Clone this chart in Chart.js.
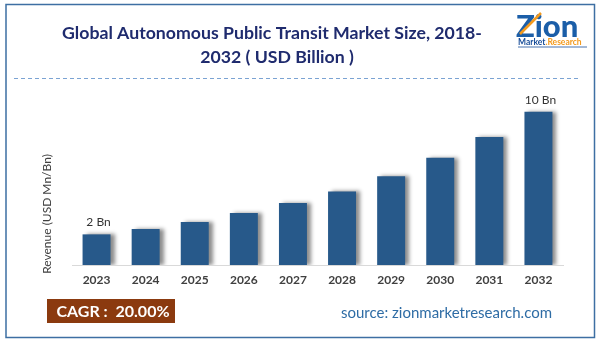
<!DOCTYPE html>
<html>
<head>
<meta charset="utf-8">
<title>Global Autonomous Public Transit Market Size</title>
<script src="https://cdn.jsdelivr.net/npm/chart.js@4.4.1/dist/chart.umd.min.js"></script>
<style>
  html, body { margin: 0; padding: 0; background: #ffffff; }
</style>
</head>
<body>
<canvas id="myChart" width="601" height="344"></canvas>
<script>
// Market size by year (USD Billion)
var years = ["2023", "2024", "2025", "2026", "2027", "2028", "2029", "2030", "2031", "2032"];
var revenue = [2, 2.35, 2.8, 3.4, 4.05, 4.8, 5.8, 7.0, 8.35, 10];
var valueLabels = ["2 Bn", "", "", "", "", "", "", "", "", "10 Bn"];

var titleLines = ["Global Autonomous Public Transit Market Size, 2018-", "2032 ( USD Billion )"];
var yAxisTitle = "Revenue (USD Mn/Bn)";
var cagrText = "CAGR :  20.00%";
var sourceText = "source: zionmarketresearch.com";

var FONT = "Lato, 'Open Sans', sans-serif";

// Soft grey shadow to the right of each bar
var barShadow = {
    id: "barShadow",
    beforeDatasetsDraw: function (chart) {
        var ctx = chart.ctx;
        ctx.save();
        ctx.shadowColor = "rgba(0, 0, 0, 0.45)";
        ctx.shadowBlur = 4;
        ctx.shadowOffsetX = 4;
        ctx.shadowOffsetY = 0;
    },
    afterDatasetsDraw: function (chart) {
        chart.ctx.restore();
    },
};

// Frame, heading, logo, value labels, CAGR badge and source line
var decorations = {
    id: "decorations",
    afterDraw: function (chart) {
        var ctx = chart.ctx;
        ctx.save();

        // outer frame
        ctx.strokeStyle = "#3d6fa3";
        ctx.lineWidth = 1.5;
        ctx.strokeRect(6, 4.5, 588.5, 333);

        // dashed separator under the heading
        ctx.strokeStyle = "#7ba3d3";
        ctx.lineWidth = 1;
        ctx.setLineDash([4, 3]);
        ctx.beginPath();
        ctx.moveTo(14, 78.5);
        ctx.lineTo(581, 78.5);
        ctx.stroke();
        ctx.setLineDash([]);

        // heading
        ctx.fillStyle = "#1f2b6e";
        ctx.font = "bold 17.7px " + FONT;
        ctx.textAlign = "center";
        ctx.textBaseline = "middle";
        ctx.fillText(titleLines[0], 272, 33);
        ctx.fillText(titleLines[1], 277, 57);

        // logo
        ctx.textAlign = "left";
        ctx.textBaseline = "alphabetic";
        ctx.font = "900 31px " + FONT;
        ctx.fillStyle = "#1b5ea8";
        ctx.fillText("Zion", 516, 37);
        ctx.strokeStyle = "#f39a1e";
        ctx.lineWidth = 2.5;
        ctx.beginPath();
        ctx.moveTo(520, 34);
        ctx.lineTo(541, 13);
        ctx.stroke();
        ctx.font = "bold 8.5px " + FONT;
        ctx.fillStyle = "#1b4f9a";
        ctx.fillText("Market", 518, 45);
        var mw = ctx.measureText("Market").width;
        ctx.fillStyle = "#f39a1e";
        ctx.fillText(".Research", 518 + mw, 45);
        ctx.strokeStyle = "#1b4f9a";
        ctx.lineWidth = 0.8;
        ctx.beginPath();
        ctx.moveTo(518, 47);
        ctx.lineTo(587, 47);
        ctx.stroke();

        // value labels above bars
        var meta = chart.getDatasetMeta(0);
        ctx.font = "12px " + FONT;
        ctx.fillStyle = "#333333";
        ctx.textAlign = "center";
        ctx.textBaseline = "middle";
        meta.data.forEach(function (bar, i) {
            if (valueLabels[i]) {
                ctx.fillText(valueLabels[i], bar.x + 2, bar.y - 12);
            }
        });

        // y axis title
        ctx.save();
        ctx.translate(47, 214);
        ctx.rotate(-Math.PI / 2);
        ctx.font = "12px " + FONT;
        ctx.fillStyle = "#404040";
        ctx.fillText(yAxisTitle, 0, 0);
        ctx.restore();

        // CAGR badge
        ctx.fillStyle = "#8b3a0f";
        ctx.fillRect(47, 299, 128, 24);
        ctx.fillStyle = "#ffffff";
        ctx.font = "bold 16px " + FONT;
        ctx.fillText(cagrText, 113, 311.5);

        // source
        ctx.fillStyle = "#2e6ca5";
        ctx.font = "15px " + FONT;
        ctx.textAlign = "left";
        ctx.fillText(sourceText, 341, 313.5);

        ctx.restore();
    },
};

var ctx = document.getElementById("myChart").getContext("2d");
var myChart = new Chart(ctx, {
    type: "bar",
    data: {
        labels: years,
        datasets: [
            {
                label: "Revenue",
                data: revenue,
                backgroundColor: "#27598a",
                borderWidth: 0,
                barPercentage: 0.57,
                categoryPercentage: 1,
            },
        ],
    },
    options: {
        responsive: false,
        animation: false,
        layout: {
            padding: { left: 72, right: 38, top: 95, bottom: 48.6 },
        },
        plugins: {
            legend: { display: false },
            title: { display: false },
            tooltip: { enabled: false },
        },
        scales: {
            x: {
                grid: { display: false, drawTicks: false },
                border: { display: true, color: "#d9d9d9", width: 1 },
                ticks: {
                    padding: 8,
                    color: "#404040",
                    font: { family: FONT, size: 12, weight: "bold" },
                },
            },
            y: {
                display: false,
                min: 0,
                max: 11.1,
            },
        },
    },
    plugins: [barShadow, decorations],
});
</script>
</body>
</html>
